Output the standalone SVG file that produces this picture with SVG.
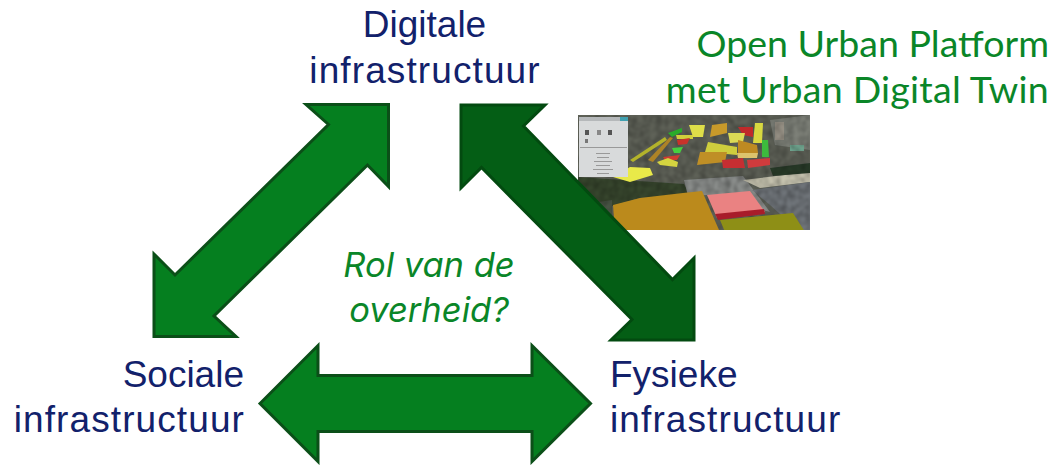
<svg xmlns="http://www.w3.org/2000/svg" width="1056" height="465" viewBox="0 0 1056 465">
<defs>
<style>
.n{font-family:"Liberation Sans",Arial,sans-serif;font-size:37px;fill:#12216b}
.w{letter-spacing:1.1px}
.g{font-family:"Lato","Noto Sans",sans-serif;font-size:37.500px;fill:#0a8628}
.r{font-family:"Inter","Noto Sans",sans-serif;font-size:34.500px;font-style:italic;fill:#0a8628}
.a{fill:#057f1f;stroke:#0b4f18;stroke-width:3}
.d{fill:#045e15;stroke:#034a10;stroke-width:3}
</style>
<filter id="b" x="-2%" y="-2%" width="104%" height="104%"><feGaussianBlur stdDeviation="0.7"/></filter>
<filter id="t" x="0" y="0" width="100%" height="100%"><feTurbulence type="fractalNoise" baseFrequency="0.16" numOctaves="2" seed="4"/><feColorMatrix values="0 0 0 0 0  0 0 0 0 0  0 0 0 0 0  1.8 0 0 0 -0.55"/><feGaussianBlur stdDeviation="0.9"/></filter>
<clipPath id="c"><rect x="578" y="115" width="232" height="115"/></clipPath>
</defs>
<g id="aerial-image" clip-path="url(#c)">
<g filter="url(#b)">
<rect x="576" y="113" width="236" height="119" fill="#5e6259"/>
<polygon points="578,177 684,184 690,195 640,198 612,206 578,225" fill="#39472f"/>
<polygon points="578,205 612,200 612,232 578,232" fill="#4a5444"/>
<polygon points="684,180 743,176 770,212 707,195 688,196" fill="#8b8e8c"/>
<polygon points="743,180 810,172 810,182 760,188" fill="#c7c4b0"/>
<polygon points="752,190 810,182 810,232 800,232 770,205" fill="#70757a"/>
<polygon points="770,168 810,163 810,173 773,176" fill="#2c3d2c"/>
<polygon points="770,120 810,115 810,150 775,145" fill="#7d8078"/>
<rect x="790" y="145" width="14" height="6" fill="#6fa58f"/>
<rect x="775" y="122" width="9" height="18" fill="#9a9488"/>
</g>
<rect x="578" y="115" width="232" height="115" filter="url(#t)" opacity=".3"/>
<g filter="url(#b)">
<polygon points="613,205 640,198 683,193 702,191 719,230 615,232" fill="#bb8a1c"/>
<polygon points="707,195 750,191 765,212 717,218" fill="#ea8282"/>
<polygon points="715,214 718,220 765,214 764,209" fill="#a81e2a"/>
<polygon points="720,220 793,213 805,232 725,232" fill="#8e8f14"/>
<polygon points="613,177 630,167 650,168 653,175 630,182" fill="#e9e94a"/>
<polygon points="630,160 665,137 667,140 633,162" fill="#b3b32a"/>
<polygon points="648,160 670,137 673,138 653,162" fill="#ad8326"/>
<polygon points="668,133 682,128 682,132 672,137" fill="#2bab2b"/>
<polygon points="676,135 693,135 693,139 677,139" fill="#d0d03a"/>
<polygon points="677,140 690,138 687,144 678,145" fill="#c8302a"/>
<polygon points="672,148 683,147 680,153 674,153" fill="#45d03f"/>
<polygon points="663,157 680,155 677,160 665,160" fill="#cf3a32"/>
<polygon points="657,162 668,158 678,162 677,167 660,165" fill="#d4d440"/>
<polygon points="689,125 705,125 703,137 693,137" fill="#dede48"/>
<polygon points="712,125 727,123 727,133 710,137" fill="#c89a2c"/>
<polygon points="738,127 753,127 753,137 743,135" fill="#c02c2c"/>
<polygon points="755,123 763,123 762,143 753,143" fill="#d8d840"/>
<polygon points="728,133 745,133 743,142 730,143" fill="#dbdb55"/>
<polygon points="708,142 737,147 737,155 705,152" fill="#cece3c"/>
<polygon points="738,140 757,145 758,153 738,153" fill="#bd8a24"/>
<polygon points="737,153 758,153 757,158 738,158" fill="#dcc36c"/>
<polygon points="700,152 727,152 725,162 697,165" fill="#bf8f26"/>
<polygon points="722,160 743,158 745,168 723,168" fill="#c62e30"/>
<polygon points="747,160 770,158 770,165 748,168" fill="#cf3a3c"/>
<polygon points="762,140 768,140 769,157 762,157" fill="#3cbb3c"/>
<rect x="579" y="117" width="49" height="60" fill="#d8dadb"/>
<rect x="579" y="117" width="42" height="4" fill="#b5b8ba"/>
<rect x="620" y="117" width="8" height="4" fill="#3fa0b0"/>
<rect x="585" y="130" width="4" height="5" fill="#555"/><rect x="597" y="130" width="4" height="5" fill="#888"/><rect x="608" y="130" width="4" height="5" fill="#555"/>
<rect x="585" y="139" width="3" height="4" fill="#777"/>
<rect x="580" y="147" width="47" height="1" fill="#999"/>
<rect x="596" y="153" width="14" height="1" fill="#999"/><rect x="597" y="157" width="12" height="1" fill="#999"/><rect x="594" y="161" width="18" height="1" fill="#999"/><rect x="596" y="165" width="14" height="1" fill="#999"/><rect x="593" y="169" width="20" height="1" fill="#999"/><rect x="597" y="173" width="12" height="1" fill="#999"/>
</g>
</g>
<g id="connectors">
<polygon id="arrow-left" class="a" points="306,104.500 388.500,104.500 388.500,186.500 367.500,165 214,316 236,336.500 154,336.500 154,254 175,275 328.500,124.500"/>
<polygon id="arrow-right" class="d" points="461,105 545,105 523.500,126 672.500,279.500 694,258 694,340 611,340 632,319.500 481.500,167.500 461,188"/>
<polygon id="arrow-bottom" class="a" points="260,403.500 318,345.500 318,375.500 532,375.500 532,345.500 590.500,403.500 532,461.500 532,431.500 318,431.500 318,461.500"/>
</g>
<g id="node-digitale"><text class="n" x="424.500" y="36.500" text-anchor="middle">Digitale</text><text class="n w" x="425" y="83" text-anchor="middle">infrastructuur</text></g>
<g id="node-sociale"><text class="n" x="244" y="387" text-anchor="end">Sociale</text><text class="n w" x="245" y="432" text-anchor="end">infrastructuur</text></g>
<g id="node-fysieke"><text class="n" x="610" y="387">Fysieke</text><text class="n w" x="610" y="432">infrastructuur</text></g>
<g id="label-platform"><text class="g" x="1049" y="57" text-anchor="end">Open Urban Platform</text><text class="g" x="1049" y="102.500" text-anchor="end" letter-spacing=".25">met Urban Digital Twin</text></g>
<g id="label-rol"><text class="r" x="429" y="277" text-anchor="middle">Rol van de</text><text class="r" x="429" y="321.500" text-anchor="middle">overheid?</text></g>
</svg>
